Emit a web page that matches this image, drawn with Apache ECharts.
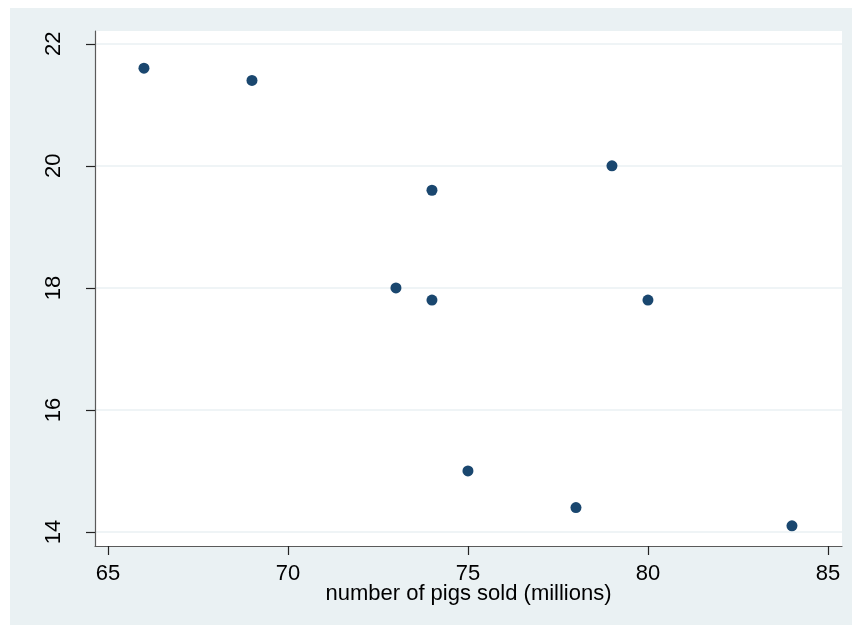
<!DOCTYPE html>
<html>
<head>
    <meta charset="utf-8">
    <title>pigs scatter</title>
    <script src="https://cdn.jsdelivr.net/npm/echarts@6/dist/echarts.min.js"></script>
    <style>
        body { margin: 0; background: #fff; }
    </style>
</head>
<body>
<div id="main" style="width: 852px;height:625px;"></div>
<script type="text/javascript">
    // number of pigs sold (millions) vs. value
    var pigsSold = [66, 69, 73, 74, 74, 75, 78, 79, 80, 84];
    var priceVals = [21.6, 21.4, 18.0, 19.6, 17.8, 15.0, 14.4, 20.0, 17.8, 14.1];
    var xTicks = [65, 70, 75, 80, 85];
    var yTicks = [14, 16, 18, 20, 22];

    var points = pigsSold.map(function (x, i) {
        return [x, priceVals[i]];
    });

    var myChart = echarts.init(document.getElementById('main'));
    var font = 'Liberation Sans, Arial, sans-serif';

    var option = {
        animation: false,
        graphic: [{
            type: 'rect',
            z: -10,
            silent: true,
            shape: { x: 10, y: 8, width: 842, height: 617 },
            style: { fill: '#eaf1f3' }
        }],
        grid: {
            left: 95,
            top: 31,
            right: 10,
            bottom: 79,
            show: true,
            backgroundColor: '#ffffff',
            borderWidth: 0
        },
        xAxis: {
            type: 'value',
            min: 64.64,
            max: 85.39,
            name: 'number of pigs sold (millions)',
            nameLocation: 'middle',
            nameGap: 37,
            nameMoveOverlap: false,
            nameTextStyle: { color: '#000', fontSize: 22, fontFamily: font },
            axisLine: { show: true, onZero: false, lineStyle: { color: '#5a5a5a', width: 1.2 } },
            axisTick: { show: true, length: 9, lineStyle: { color: '#222', width: 1.2 },
                customValues: xTicks },
            axisLabel: { color: '#000', fontSize: 22, fontFamily: font, margin: 17,
                customValues: xTicks },
            splitLine: { show: false }
        },
        yAxis: {
            type: 'value',
            min: 13.77,
            max: 22.21,
            axisLine: { show: true, onZero: false, lineStyle: { color: '#5a5a5a', width: 1.2 } },
            axisTick: { show: true, length: 9, lineStyle: { color: '#222', width: 1.2 },
                customValues: yTicks },
            axisLabel: { color: '#000', fontSize: 22, fontFamily: font, rotate: 90, margin: 30,
                customValues: yTicks },
            splitLine: { show: true, lineStyle: { color: '#eaf1f3', width: 1.5 },
                customValues: yTicks }
        },
        series: [{
            type: 'scatter',
            data: points,
            symbolSize: 11,
            itemStyle: { color: '#1a476f', opacity: 1 }
        }]
    };

    myChart.setOption(option);
</script>
</body>
</html>
